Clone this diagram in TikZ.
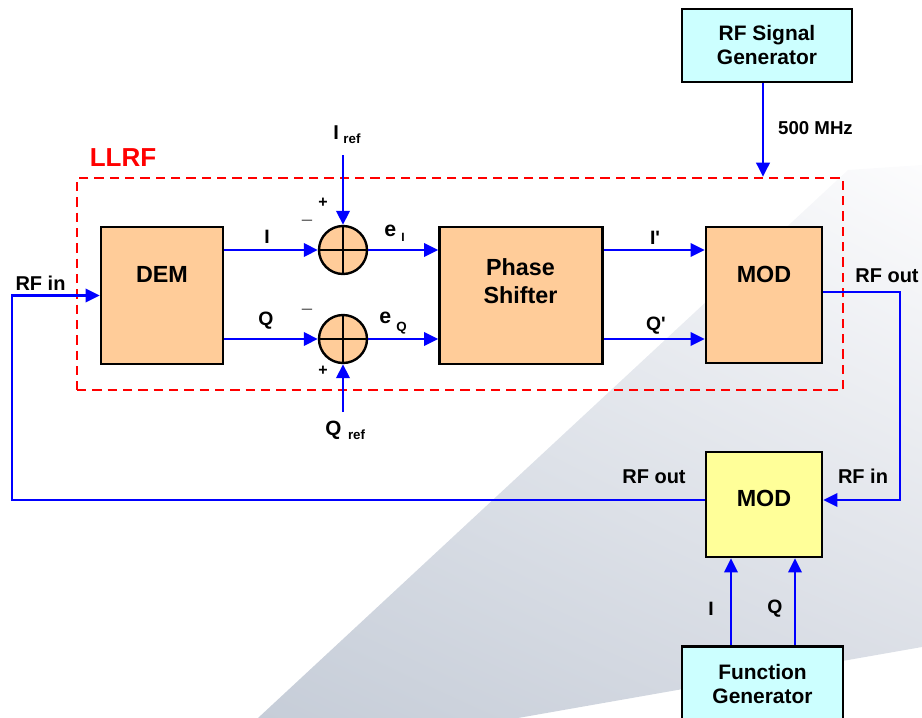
\documentclass[tikz,border=0pt]{standalone}
\usepackage{fontspec}
\setmainfont{Liberation Sans}
\usetikzlibrary{arrows.meta,shadings}
\definecolor{peach}{RGB}{255,204,153}
\definecolor{lcyan}{RGB}{204,255,255}
\definecolor{lyellow}{RGB}{255,255,153}
\definecolor{bgLL}{RGB}{198,205,216}
\definecolor{bgLR}{RGB}{216,220,228}
\definecolor{bgUL}{RGB}{228,232,238}
\definecolor{bgUR}{RGB}{252,252,253}
\tikzset{
  box/.style={draw=black, line width=2pt, inner sep=0pt, align=center},
  sig/.style={draw=blue, line width=1.9pt},
  arr/.style={sig, -{Triangle[length=10.5pt,width=10pt]}},
  lab/.style={font=\bfseries\fontsize{15}{17}\selectfont, inner sep=0pt, anchor=base},
  iq/.style={font=\bfseries\fontsize{14.5}{17}\selectfont, inner sep=0pt, anchor=base},
  big/.style={font=\bfseries\fontsize{17.5}{21}\selectfont, inner sep=0pt, anchor=base},
  gen/.style={font=\bfseries\fontsize{15.7}{19}\selectfont},
  sgn/.style={font=\bfseries\fontsize{12}{12}\selectfont, inner sep=0pt},
  neg/.style={font=\fontsize{14}{14}\selectfont, inner sep=0pt, text=black!65},
  sumj/.style={circle, draw=black, line width=1.8pt, fill=peach, minimum size=36pt, inner sep=0pt},
}
\newcommand{\subtx}[2]{\hspace{#1}\raisebox{-3pt}{\fontsize{#2}{12}\selectfont ref}}
\begin{document}
\begin{tikzpicture}[x=0.75pt,y=-0.75pt]
\useasboundingbox (0,0) rectangle (922,718);
% background wedge
\shade[lower left=bgLL, lower right=bgLR, upper left=bgUL, upper right=bgUR]
  (258,718) -- (848,170) -- (922,165) -- (922,647) -- (518,718) -- cycle;
% LLRF dashed box
\node[draw=red, line width=1.9pt, dash pattern=on 7pt off 4.5pt, minimum width=574.5pt, minimum height=159pt, inner sep=0pt] (llrf) at (460,284) {};
\node[font=\bfseries\fontsize{19.5}{22}\selectfont, text=red, inner sep=0pt, anchor=base] (llrflab) at (123,166) {LLRF};
% boxes
\node[box, fill=peach, minimum width=91.5pt, minimum height=102.75pt] (dem) at (162,295.5) {};
\node[big] (demlab) at (162,282) {DEM};
\node[box, fill=peach, minimum width=122.25pt, minimum height=102.75pt] (ps) at (521,295.5) {};
\node[big] (pslab1) at (520.5,275) {Phase};
\node[big] (pslab2) at (520.5,303) {Shifter};
\node[box, fill=peach, minimum width=87pt, minimum height=102pt] (mod1) at (764,295) {};
\node[big] (mod1lab) at (764,282) {MOD};
\node[box, fill=lyellow, minimum width=87pt, minimum height=78.75pt] (mod2) at (764,504.5) {};
\node[big] (mod2lab) at (764,506) {MOD};
\node[box, fill=lcyan, minimum width=127.5pt, minimum height=54.75pt, gen] (rfgen) at (767,45.5) {RF Signal\\[-1pt]Generator};
\node[box, fill=lcyan, minimum width=120.75pt, minimum height=57pt, gen] (fgen) at (762.5,684.5) {Function\\[-1pt]Generator};
% summing junctions
\node[sumj] (s1) at (343,250) {};
\node[sumj] (s2) at (343,339) {};
\draw[line width=1.8pt] (s1.north) -- (s1.south) (s1.west) -- (s1.east);
\draw[line width=1.8pt] (s2.north) -- (s2.south) (s2.west) -- (s2.east);
% coordinates
\coordinate (iref) at (343,155);
\coordinate (qref) at (343,412);
\coordinate (lcorner) at (12,500);
\coordinate (rcorner) at (900,500);
% connectors
\draw[arr] (mod2.west |- lcorner) -- (lcorner) |- (dem.west);
\draw[arr] (dem.east |- s1) -- (s1.west);
\draw[arr] (dem.east |- s2) -- (s2.west);
\draw[arr] (s1.east) -- (ps.west |- s1);
\draw[arr] (s2.east) -- (ps.west |- s2);
\draw[arr] (iref) -- (s1.north);
\draw[arr] (qref) -- (s2.south);
\draw[arr] (ps.east |- s1) -- (mod1.west |- s1);
\draw[arr] (ps.east |- s2) -- (mod1.west |- s2);
\draw[arr] (mod1.east |- 0,292) -| (rcorner) -- (mod2.east |- rcorner);
\draw[arr] (rfgen.south -| 763,0) -- (llrf.north -| 763,0);
\draw[arr] (fgen.north -| 731,0) -- (mod2.south -| 731,0);
\draw[arr] (fgen.north -| 795,0) -- (mod2.south -| 795,0);
% labels
\node[iq] (li) at (267,243) {I};
\node[iq] (lq) at (266,325) {Q};
\node[iq] (lip) at (655,244) {I\textquotesingle};
\node[iq] (lqp) at (656,330) {Q\textquotesingle};
\node[iq] (lib) at (711,615) {I};
\node[iq] (lqb) at (775,613) {Q};
\node[lab] (rfin1) at (40.5,290) {RF in};
\node[lab] (rfout1) at (887,282) {RF out};
\node[lab] (rfout2) at (654,483) {RF out};
\node[lab] (rfin2) at (863,483) {RF in};
\node[font=\bfseries\fontsize{14}{16}\selectfont, inner sep=0pt, anchor=base] (mhz) at (815.5,134) {500 MHz};
\node[font=\bfseries\fontsize{15}{17}\selectfont, inner sep=0pt, anchor=base west] (ireflab) at (333,139) {I\subtx{3.5pt}{10}};
\node[font=\bfseries\fontsize{15.5}{17}\selectfont, inner sep=0pt, anchor=base west] (qreflab) at (325,435) {Q\subtx{5pt}{10}};
\node[font=\bfseries\fontsize{16}{18}\selectfont, inner sep=0pt, anchor=base west] (ei) at (384,236) {e\hspace{4pt}\raisebox{-4pt}{\fontsize{9}{10}\selectfont I}};
\node[font=\bfseries\fontsize{16}{18}\selectfont, inner sep=0pt, anchor=base west] (eq) at (379,323) {e\hspace{4pt}\raisebox{-6pt}{\fontsize{10}{10}\selectfont Q}};
\node[sgn] (p1) at (323,203) {+};
\node[sgn] (p2) at (323,371) {+};
\node[neg] (m1) at (307,223) {–};
\node[neg] (m2) at (307,312) {–};
\end{tikzpicture}
\end{document}
